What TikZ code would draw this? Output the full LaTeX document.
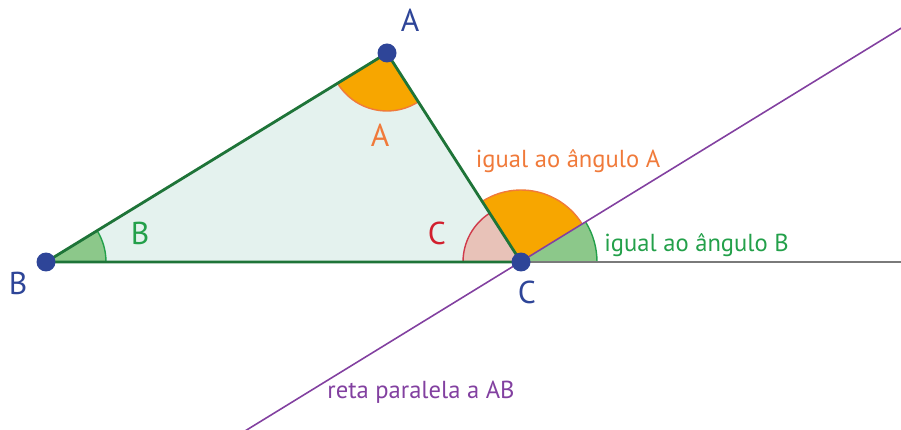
\documentclass[tikz,border=0pt]{standalone}
\usepackage{fontspec}
\setmainfont{PT Sans}
\usepackage{tikz}
\usetikzlibrary{positioning, calc}
\definecolor{trifill}{HTML}{E4F2EE}
\definecolor{sidegreen}{HTML}{1E7438}
\definecolor{dotblue}{HTML}{2E4598}
\definecolor{myorange}{HTML}{F7A600}
\definecolor{orangeline}{HTML}{F07A3A}
\definecolor{mygreen}{HTML}{8CC88A}
\definecolor{greenline}{HTML}{23A04A}
\definecolor{mypink}{HTML}{E8C2B8}
\definecolor{pinkline}{HTML}{D03A4A}
\definecolor{labelred}{HTML}{D2202E}
\definecolor{mypurple}{HTML}{8240A0}
\definecolor{mygray}{HTML}{7A7A7A}
\tikzset{
	vertexdot/.style={
			circle,
			fill=dotblue,
			minimum size=3.8mm,
			inner sep=0pt
		},
	vertexlabel/.style={
			text=dotblue,
			font=\fontsize{18}{20}\selectfont,
			inner sep=0pt
		},
	anglelabel/.style={
			font=\fontsize{18}{20}\selectfont,
			inner sep=0pt
		},
	notelabel/.style={
			font=\fontsize{14}{16}\selectfont,
			inner sep=0pt
		},
	side/.style={
			draw=sidegreen,
			line width=1.6pt,
			line join=round
		}
}

\begin{document}
\begin{tikzpicture}[x=0.02cm, y=0.02cm]
\useasboundingbox (0,0) rectangle (901,429);

\coordinate (A) at (387,376);
\coordinate (B) at (46,167);
\coordinate (C) at (521,167);
\coordinate (parlow) at (245,-2);
\coordinate (parhigh) at (903,402);
\coordinate (hend) at (901,167);

% triangle and angles
\fill[trifill] (A) -- (B) -- (C) -- cycle;
\fill[mygreen] (B) -- ++(0:60) arc[start angle=0, end angle=31.5, radius=60] -- cycle;
\draw[greenline, thick] ($(B)+(0:60)$) arc[start angle=0, end angle=31.5, radius=60];
\fill[myorange] (A) -- ++(211.5:58) arc[start angle=211.5, end angle=302.7, radius=58] -- cycle;
\draw[orangeline, thick] ($(A)+(211.5:58)$) arc[start angle=211.5, end angle=302.7, radius=58];
\fill[mypink] (C) -- ++(122.7:58) arc[start angle=122.7, end angle=180, radius=58] -- cycle;
\draw[pinkline, thick] ($(C)+(122.7:58)$) arc[start angle=122.7, end angle=180, radius=58];
\fill[myorange] (C) -- ++(31.5:72) arc[start angle=31.5, end angle=122.7, radius=72] -- cycle;
\draw[orangeline, thick] ($(C)+(31.5:72)$) arc[start angle=31.5, end angle=122.7, radius=72];
\fill[mygreen] (C) -- ++(0:76) arc[start angle=0, end angle=31.5, radius=76] -- cycle;
\draw[greenline, thick] ($(C)+(0:76)$) arc[start angle=0, end angle=31.5, radius=76];

% lines
\draw[mygray, line width=1pt] (C) -- (hend);
\draw[mypurple, line width=0.9pt] (parlow) -- (parhigh);
\draw[side] (A) -- (B) -- (C) -- cycle;

\node[vertexdot] (dotA) at (A) {};
\node[vertexdot] (dotB) at (B) {};
\node[vertexdot] (dotC) at (C) {};

\node[vertexlabel] (labA) at (410,409) {A};
\node[vertexlabel] (labB) at (18,146) {B};
\node[vertexlabel] (labC) at (527,137) {C};

\node[anglelabel, text=orangeline] (angA) at (380,294) {A};
\node[anglelabel, text=greenline] (angB) at (140,196) {B};
\node[anglelabel, text=labelred] (angC) at (437,196) {C};

\node[notelabel, text=orangeline] (noteA) at (568,268) {igual ao ângulo A};
\node[notelabel, text=greenline, anchor=west] (noteB) at (604,184) {igual ao ângulo B};
\node[notelabel, text=mypurple] (notepar) at (421,37) {reta paralela a AB};
\end{tikzpicture}
\end{document}
